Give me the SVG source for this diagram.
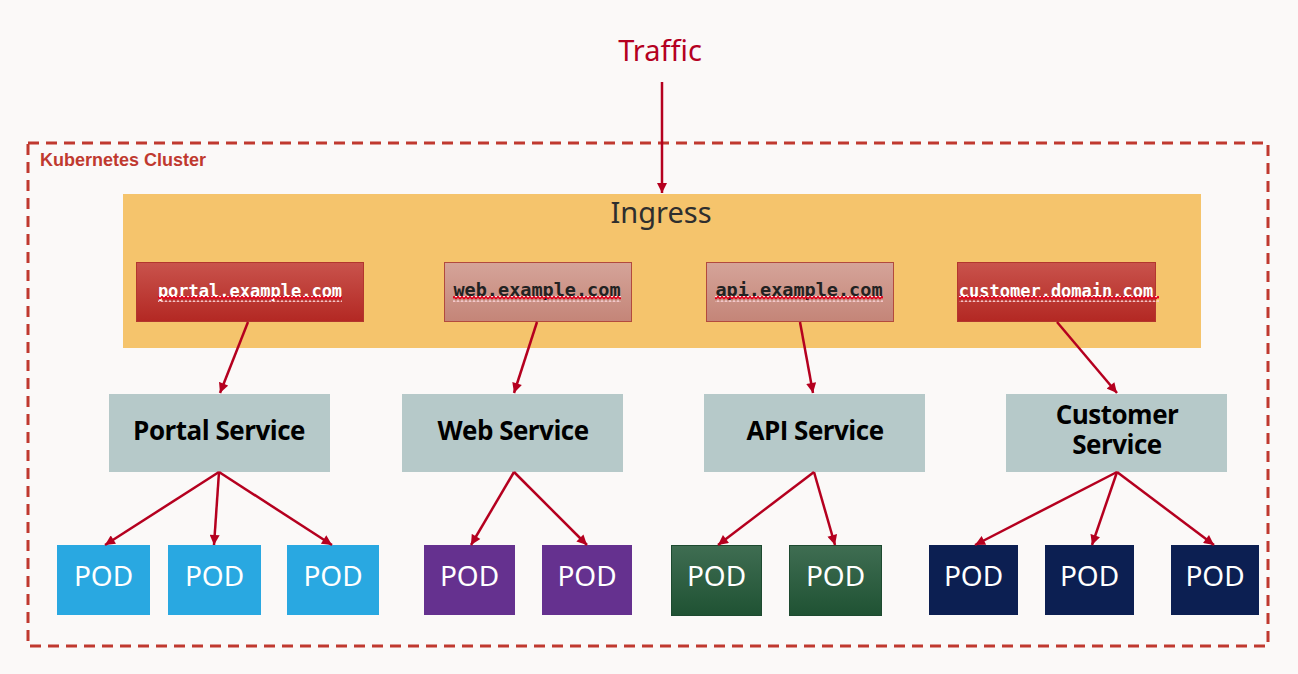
<svg xmlns="http://www.w3.org/2000/svg" width="1298" height="674" viewBox="0 0 1298 674">
<defs>
<style>
.bg{fill:#fbf9f8}
.cluster{fill:none;stroke:#c0392f;stroke-width:3;stroke-dasharray:11,7}
.clabel{font-family:"Liberation Sans","Open Sans",sans-serif;font-weight:bold;font-size:18px;fill:#c0392f}
.traffic{font-family:"Noto Sans","Liberation Sans",sans-serif;font-size:29px;fill:#b5001f;text-anchor:middle}
.ingress{fill:#f5c46c}
.ingtext{font-family:"Noto Sans","Liberation Sans",sans-serif;font-size:29px;fill:#2e2e2e;text-anchor:middle}
.hostR{fill:url(#gRed);stroke:#b3362e;stroke-width:1}
.hostP{fill:url(#gPink);stroke:#b24a3e;stroke-width:1}
.host{font-family:"DejaVu Sans Mono","Liberation Mono",monospace;font-weight:bold;text-anchor:middle}
.svc{fill:#b6c9c9}
.svctext{font-family:"Open Sans","Liberation Sans",sans-serif;font-weight:bold;font-size:26px;fill:#000;text-anchor:middle;letter-spacing:-0.5px}
.pod{font-family:"Noto Sans","Liberation Sans",sans-serif;font-size:28px;fill:#fff;text-anchor:middle}
.blue{fill:#29a8e1}
.purple{fill:#65318f}
.green{fill:url(#gGreen);stroke:#1d4a30;stroke-width:1}
.navy{fill:#0c1f52}
.conn{stroke:#b5001f;stroke-width:2.5;fill:none;marker-end:url(#ah)}
</style>
<linearGradient id="gRed" x1="0" y1="0" x2="0" y2="1"><stop offset="0" stop-color="#c9534c"/><stop offset="1" stop-color="#b32823"/></linearGradient>
<linearGradient id="gPink" x1="0" y1="0" x2="0" y2="1"><stop offset="0" stop-color="#d5a499"/><stop offset="1" stop-color="#c48578"/></linearGradient>
<linearGradient id="gGreen" x1="0" y1="0" x2="0" y2="1"><stop offset="0" stop-color="#3f6d52"/><stop offset="1" stop-color="#1f5233"/></linearGradient>
<marker id="ah" viewBox="0 0 10 10" refX="10" refY="5" markerWidth="11" markerHeight="10" markerUnits="userSpaceOnUse" orient="auto">
<path d="M0,0 L10,5 L0,10 Z" fill="#b5001f"/>
</marker>
<pattern id="sq" x="0" y="0" width="4" height="6" patternUnits="userSpaceOnUse">
<path d="M0,3.5 L2,1 L4,3.5" fill="none" stroke="#ffffff" stroke-width="1.2"/>
<path d="M0,5 L2,2.5 L4,5" fill="none" stroke="#e0001a" stroke-width="1.5"/>
</pattern>
</defs>
<rect class="bg" x="0" y="0" width="1298" height="674"/>

<g id="traffic"><text class="traffic" x="660" y="61">Traffic</text></g>

<g id="cluster">
<rect class="cluster" x="28" y="143" width="1240" height="503"/>
<text class="clabel" x="40" y="166">Kubernetes Cluster</text>
</g>

<g id="ingress">
<rect class="ingress" x="123" y="194" width="1078" height="154"/>
<text class="ingtext" x="661" y="223">Ingress</text>
</g>

<g id="host-portal">
<rect class="hostR" x="136.5" y="262.5" width="227" height="59"/>
<text class="host" x="250" y="297" font-size="17" fill="#ffffff">portal.example.com</text>
<rect x="158" y="296" width="184" height="6" fill="url(#sq)"/>
</g>
<g id="host-web">
<rect class="hostP" x="444.5" y="262.5" width="187" height="59"/>
<text class="host" x="537" y="296" font-size="18.5" fill="#222222">web.example.com</text>
<rect x="453" y="296" width="168" height="6" fill="url(#sq)"/>
</g>
<g id="host-api">
<rect class="hostP" x="706.5" y="262.5" width="187" height="59"/>
<text class="host" x="799" y="296" font-size="18.5" fill="#222222">api.example.com</text>
<rect x="715" y="296" width="168" height="6" fill="url(#sq)"/>
</g>
<g id="host-customer">
<rect class="hostR" x="957.5" y="262.5" width="198" height="59"/>
<text class="host" x="1056" y="297" font-size="17" fill="#ffffff">customer.domain.com</text>
<rect x="959" y="296" width="200" height="6" fill="url(#sq)"/>
</g>

<g id="svc-portal"><rect class="svc" x="109" y="394" width="221" height="78"/><text class="svctext" x="219" y="440">Portal Service</text></g>
<g id="svc-web"><rect class="svc" x="402" y="394" width="221" height="78"/><text class="svctext" x="513" y="440">Web Service</text></g>
<g id="svc-api"><rect class="svc" x="704" y="394" width="221" height="78"/><text class="svctext" x="815" y="440">API Service</text></g>
<g id="svc-customer"><rect class="svc" x="1006" y="394" width="221" height="78"/><text class="svctext" x="1117" y="424">Customer</text><text class="svctext" x="1117" y="454">Service</text></g>

<g id="pod-p1"><rect class="blue" x="57" y="545" width="93" height="70"/><text class="pod" x="103.5" y="586">POD</text></g>
<g id="pod-p2"><rect class="blue" x="168" y="545" width="93" height="70"/><text class="pod" x="214.5" y="586">POD</text></g>
<g id="pod-p3"><rect class="blue" x="287" y="545" width="92" height="70"/><text class="pod" x="333" y="586">POD</text></g>
<g id="pod-w1"><rect class="purple" x="424" y="545" width="91" height="70"/><text class="pod" x="469.5" y="586">POD</text></g>
<g id="pod-w2"><rect class="purple" x="542" y="545" width="90" height="70"/><text class="pod" x="587" y="586">POD</text></g>
<g id="pod-a1"><rect class="green" x="671.5" y="545.5" width="90" height="70"/><text class="pod" x="716.5" y="586">POD</text></g>
<g id="pod-a2"><rect class="green" x="789.5" y="545.5" width="92" height="70"/><text class="pod" x="835.5" y="586">POD</text></g>
<g id="pod-c1"><rect class="navy" x="929" y="545" width="89" height="70"/><text class="pod" x="973.5" y="586">POD</text></g>
<g id="pod-c2"><rect class="navy" x="1045" y="545" width="89" height="70"/><text class="pod" x="1089.5" y="586">POD</text></g>
<g id="pod-c3"><rect class="navy" x="1171" y="545" width="88" height="70"/><text class="pod" x="1215" y="586">POD</text></g>

<g id="connectors">
<line class="conn" x1="662" y1="82" x2="662" y2="193"/>
<line class="conn" x1="248" y1="322" x2="220" y2="393"/>
<line class="conn" x1="537" y1="322" x2="514" y2="393"/>
<line class="conn" x1="800" y1="322" x2="813" y2="393"/>
<line class="conn" x1="1057" y1="322" x2="1117" y2="393"/>
<line class="conn" x1="219" y1="472" x2="105" y2="545"/>
<line class="conn" x1="219" y1="472" x2="214" y2="545"/>
<line class="conn" x1="219" y1="472" x2="332" y2="545"/>
<line class="conn" x1="514" y1="472" x2="471" y2="545"/>
<line class="conn" x1="514" y1="472" x2="587" y2="545"/>
<line class="conn" x1="814" y1="472" x2="718" y2="545"/>
<line class="conn" x1="814" y1="472" x2="835" y2="545"/>
<line class="conn" x1="1117" y1="472" x2="975" y2="545"/>
<line class="conn" x1="1117" y1="472" x2="1092" y2="545"/>
<line class="conn" x1="1117" y1="472" x2="1214" y2="545"/>
</g>
</svg>
